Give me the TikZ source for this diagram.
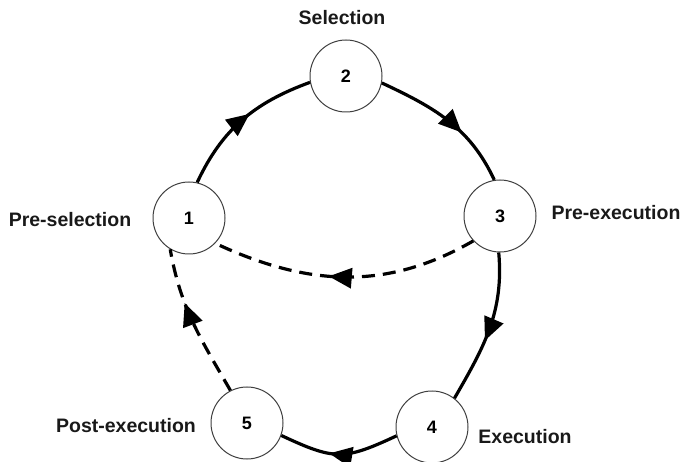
\documentclass[tikz,border=0pt]{standalone}
\usepackage{fontspec}
\setmainfont{Liberation Sans}
\usetikzlibrary{arrows.meta,decorations.markings}
\begin{document}
\begin{tikzpicture}[x=1pt,y=1pt,
  stage/.style={circle,draw=black!75,line width=1pt,minimum size=72pt,inner sep=0pt,fill=white,
    font=\fontsize{18}{20}\selectfont\bfseries},
  lbl/.style={anchor=base,font=\fontsize{19.5}{22}\selectfont\bfseries,text=black!90},
  flow/.style={line width=3.2pt,postaction={decorate},
    decoration={markings,mark=at position #1 with {\arrow{Triangle[length=23pt,width=20pt]}}}},
  flow/.default=0.5,
  back/.style={flow=#1,dash pattern=on 13pt off 8pt},
  back/.default=0.5,
]
\useasboundingbox (0,0) rectangle (683,461);

\node[stage] (n1) at (189,243) {1};
\node[stage] (n2) at (346,385) {2};
\node[stage] (n3) at (500,245) {3};
\node[stage] (n4) at (432,34) {4};
\node[stage] (n5) at (247,38) {5};

\node[lbl] (l2) at (342,436) {Selection};
\node[lbl] (l1) at (70,234) {Pre-selection};
\node[lbl] (l3) at (616,241) {Pre-execution};
\node[lbl] (l5) at (126,29) {Post-execution};
\node[lbl] (l4) at (525,18) {Execution};

\draw[flow=0.56] (n1.77) to[out=65,in=200] (n2.190);
\draw[flow=0.62] (n2.349) to[out=-25,in=115] (n3.99);
\draw[flow=0.58] (n3.268) to[out=-85,in=60] (n4.52);
\draw[flow=0.58] (n4.194) to[out=205,in=-25,looseness=1.3] (n5.340);
\draw[back=0.64] (n5.117) to[out=120,in=-80] (n1.239);
\draw[back=0.56] (n3.223) to[out=210,in=-25] (n1.316);
\end{tikzpicture}
\end{document}
